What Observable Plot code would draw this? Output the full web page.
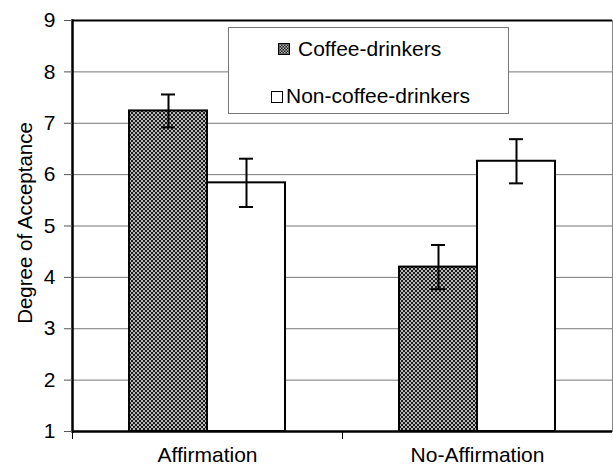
<!DOCTYPE html>
<html><head><meta charset="utf-8">
<script src="https://cdn.jsdelivr.net/npm/d3@7"></script>
<script src="https://cdn.jsdelivr.net/npm/@observablehq/plot@0.6"></script>
<style>
body{margin:0;background:#fff;overflow:hidden}
#wrap{position:relative;width:613px;height:469px;font-family:"Liberation Sans",Arial,sans-serif;color:#000}
.legend{position:absolute;left:228px;top:27px;width:281px;height:87px;border:1px solid #777;background:#fff;box-sizing:border-box}
.legend .sw{position:absolute;width:12px;height:12px;box-sizing:border-box}
.legend .lab{position:absolute;font-size:21px;line-height:24px;white-space:nowrap}
</style></head><body><div id="wrap"></div>
<script>
const groups = ["Affirmation", "No-Affirmation"];
const series = ["Coffee-drinkers", "Non-coffee-drinkers"];
const coffeeMeans = [7.24, 4.20];
const coffeeErrors = [0.32, 0.43];
const nonCoffeeMeans = [5.84, 6.26];
const nonCoffeeErrors = [0.47, 0.43];
const yTicks = [1, 2, 3, 4, 5, 6, 7, 8, 9];

const data = groups.flatMap((g, i) => [
  {group: g, series: series[0], mean: coffeeMeans[i], err: coffeeErrors[i]},
  {group: g, series: series[1], mean: nonCoffeeMeans[i], err: nonCoffeeErrors[i]}
]);

const W = 613, H = 469, mt = 20, mb = 38, ml = 71, mr = 1;
const font = '"Liberation Sans", Arial, sans-serif';

const plot = Plot.plot({
  width: W, height: H, marginTop: mt, marginBottom: mb, marginLeft: ml, marginRight: mr,
  style: {fontFamily: font, fontSize: "21px", color: "#000", background: "#fff", overflow: "visible"},
  fx: {domain: groups, padding: 0, label: null},
  x: {domain: series, paddingInner: 0, paddingOuter: 0.715, axis: null},
  y: {domain: [1, 9], label: null},
  color: {domain: series, range: ["url(#stipple)", "#ffffff"]},
  marks: [
    Plot.gridY(yTicks, {stroke: "#777", strokeOpacity: 1, strokeWidth: 1}),
    Plot.frame({anchor: "right", facetAnchor: "right", stroke: "#888", strokeWidth: 1}),
    Plot.barY(data, {fx: "group", x: "series", y1: 1, y2: "mean", fill: "series", stroke: "#000", strokeWidth: 2}),
    Plot.ruleX(data, {fx: "group", x: "series", y1: d => d.mean - d.err, y2: d => d.mean + d.err, stroke: "#000", strokeWidth: 2}),
    Plot.tickY(data, {fx: "group", x: "series", y: d => d.mean + d.err, stroke: "#000", strokeWidth: 2, insetLeft: 32, insetRight: 32}),
    Plot.tickY(data, {fx: "group", x: "series", y: d => d.mean - d.err, stroke: "#000", strokeWidth: 2, insetLeft: 32, insetRight: 32}),
    Plot.ruleY([9], {stroke: "#000", strokeWidth: 2}),
    Plot.ruleY([1], {stroke: "#000", strokeWidth: 2.5}),
    Plot.frame({anchor: "left", facetAnchor: "left", stroke: "#000", strokeWidth: 2.5}),
    Plot.frame({anchor: "left", insetTop: H - mt - mb, insetBottom: -7, stroke: "#000", strokeWidth: 1}),
    Plot.axisY(yTicks, {tickSize: 8, tickPadding: 9, tickFormat: d => String(d), stroke: "#555", fill: "#000", fontSize: 21, fontFamily: font, label: null}),
    Plot.axisFx({anchor: "bottom", tickSize: 0, tickPadding: 16, fontSize: 21, fontFamily: font, fill: "#000", label: null}),
    Plot.text(["Degree of Acceptance"], {frameAnchor: "left", facetAnchor: "left", textAnchor: "middle", lineAnchor: "middle", rotate: -90, dx: -47, dy: -3, fontSize: 20.5, fontFamily: font, fill: "#000"})
  ]
});

d3.select(plot).insert("defs", ":first-child").html(
  '<pattern id="stipple" width="4" height="4" patternUnits="userSpaceOnUse">' +
  '<rect width="4" height="4" fill="#1c1c1c"/><rect width="2" height="2" fill="#b8b8b8"/>' +
  '<rect x="2" y="2" width="2" height="2" fill="#b8b8b8"/></pattern>'
);

const wrap = document.getElementById("wrap");
wrap.appendChild(plot);

const legend = document.createElement("div");
legend.className = "legend";
legend.innerHTML =
  '<svg class="sw" style="left:49px;top:15px" width="12" height="12"><defs><pattern id="stip2" width="3" height="3" patternUnits="userSpaceOnUse"><rect width="3" height="3" fill="#1c1c1c"/><rect width="1.5" height="1.5" fill="#b8b8b8"/><rect x="1.5" y="1.5" width="1.5" height="1.5" fill="#b8b8b8"/></pattern></defs><rect x="0.5" y="0.5" width="11" height="11" fill="url(#stip2)" stroke="#000"/></svg>' +
  '<span class="lab" style="left:69px;top:9px">' + series[0] + '</span>' +
  '<svg class="sw" style="left:42px;top:63px" width="12" height="12"><rect x="0.5" y="0.5" width="11" height="11" fill="#fff" stroke="#000"/></svg>' +
  '<span class="lab" style="left:57px;top:56px">' + series[1] + '</span>';
wrap.appendChild(legend);
</script></body></html>
